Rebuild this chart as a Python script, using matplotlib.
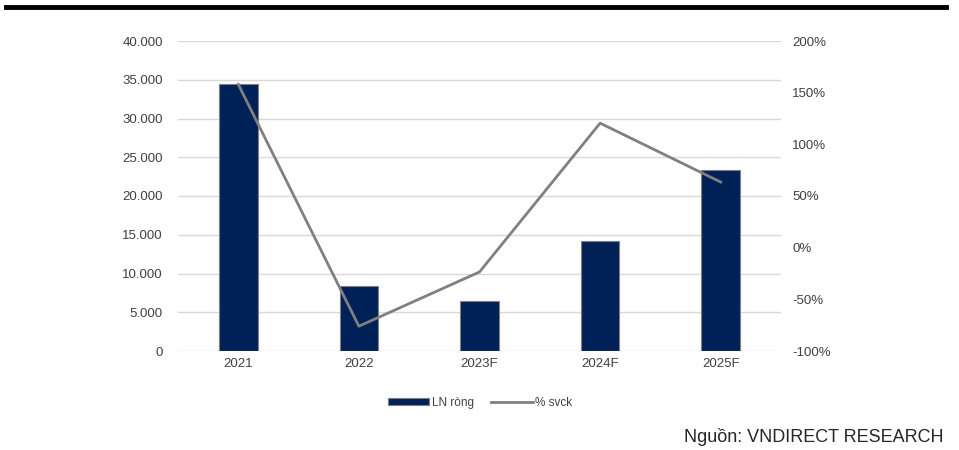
import matplotlib
matplotlib.use("Agg")
import matplotlib.pyplot as plt
from matplotlib.ticker import FuncFormatter
from matplotlib.lines import Line2D
from matplotlib.patches import Patch

plt.rcParams['font.family'] = ['Liberation Sans', 'DejaVu Sans']

years = ["2021", "2022", "2023F", "2024F", "2025F"]
ln_rong = [34400, 8400, 6450, 14200, 23350]
pct_svck = [158, -76, -23.5, 120.5, 63.5]

bar_color = "#002157"
line_color = "#808080"
txt_color = "#404040"

fig = plt.figure(figsize=(9.59, 4.5), dpi=100)

# thick black rule at the top
fig.add_artist(Line2D([6 / 959, 946 / 959], [1 - 7 / 450, 1 - 7 / 450], color="black", lw=3.5))

ax = fig.add_axes([178 / 959, 1 - 351 / 450, (781 - 178) / 959, (351 - 41) / 450])
x = list(range(len(years)))
ax.bar(x, ln_rong, width=0.32, color=bar_color, edgecolor="#7f7f7f", linewidth=0.8, zorder=3)
ax.set_xlim(-0.5, len(years) - 0.5)
ax.set_ylim(0, 40000)
ax.set_yticks(range(0, 40001, 5000))
ax.yaxis.set_major_formatter(FuncFormatter(lambda v, p: "0" if v == 0 else "{:,.0f}".format(v).replace(",", ".")))
ax.set_xticks(x)
ax.set_xticklabels(years)
ax.grid(axis="y", color="#d9d9d9", lw=1, zorder=0)
for s in ax.spines.values():
    s.set_visible(False)
ax.tick_params(length=0, labelsize=9.5, colors=txt_color, pad=11)
ax.tick_params(axis="x", pad=5)

ax2 = ax.twinx()
ax2.plot(x, pct_svck, color=line_color, lw=2, zorder=4)
ax2.set_ylim(-100, 200)
ax2.set_yticks(range(-100, 201, 50))
ax2.yaxis.set_major_formatter(FuncFormatter(lambda v, p: "%d%%" % v))
for s in ax2.spines.values():
    s.set_visible(False)
ax2.tick_params(length=0, labelsize=9.5, colors=txt_color, pad=8)

handles = [Patch(facecolor=bar_color, edgecolor="#7f7f7f", linewidth=0.8),
           Line2D([0], [0], color=line_color, lw=2)]
fig.legend(handles, ["LN ròng", "% svck"], loc="center", bbox_to_anchor=(480 / 959, 1 - 403 / 450),
           ncol=2, frameon=False, fontsize=8.5, handlelength=3.5, handleheight=0.5,
           handletextpad=0.2, columnspacing=1.5, labelcolor=txt_color)

fig.text(944 / 959, 1 - 437 / 450, "Nguồn: VNDIRECT RESEARCH", ha="right", va="center",
         fontsize=13, color="#262626")

fig.savefig("out.png", dpi=100)
